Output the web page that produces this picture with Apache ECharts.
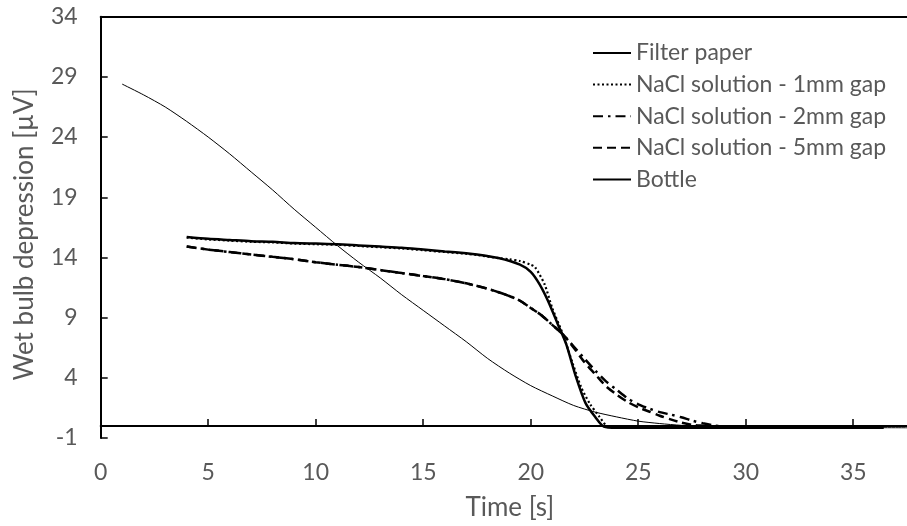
<!DOCTYPE html>
<html>
<head>
<meta charset="utf-8">
<script src="https://cdn.jsdelivr.net/npm/echarts@6/dist/echarts.min.js"></script>
<style>html,body{margin:0;padding:0;background:#fff}#c{width:907px;height:526px}</style>
</head>
<body>
<div id="c"></div>
<script>
const xTitle = 'Time [s]';
const yTitle = 'Wet bulb depression [µV]';
const seriesNames = ['Filter paper', 'NaCl solution - 1mm gap', 'NaCl solution - 2mm gap', 'NaCl solution - 5mm gap', 'Bottle'];

const filterPaper = [[4,15.7],[5,15.55],[6,15.45],[7,15.35],[8,15.3],[9,15.2],[10,15.15],[11,15.1],[12,15.0],[13,14.9],[14,14.8],[15,14.65],[16,14.5],[17,14.35],[17.5,14.25],[18.5,13.95],[19.5,13.4],[20,12.8],[20.4,11.8],[20.8,10.4],[21.25,8.5],[21.65,6.8],[22.1,4.1],[22.55,1.9],[23.0,0.75],[23.4,-0.05],[24,-0.15],[36.4,-0.15]];
const nacl1mm = [[4,15.65],[5,15.5],[6,15.4],[7,15.3],[8,15.25],[9,15.15],[10,15.1],[11,15.05],[12,14.95],[13,14.85],[14,14.75],[15,14.6],[16,14.45],[17,14.3],[17.5,14.2],[18.5,13.95],[19,13.85],[19.5,13.7],[20,13.4],[20.2,13.2],[20.65,11.75],[21,9.8],[21.5,7.6],[21.95,5.2],[22.35,3.2],[22.75,1.85],[23.2,0.75],[23.6,-0.1],[24,-0.15],[36.4,-0.15]];
const nacl2mm = [[4,14.9],[5,14.65],[6,14.45],[7,14.25],[8,14.05],[9,13.85],[10,13.6],[11,13.4],[12,13.2],[13,12.95],[14,12.7],[15,12.45],[16,12.2],[17,11.85],[18,11.4],[19,10.8],[19.5,10.4],[20,9.8],[20.5,9.2],[21,8.4],[21.5,7.6],[22,6.6],[22.5,5.6],[23,4.6],[23.5,3.7],[24,3.0],[24.5,2.3],[25,1.8],[25.5,1.45],[26,1.15],[26.5,0.95],[27,0.72],[27.5,0.45],[28,0.22],[28.5,0.05],[29,-0.05],[30,-0.1],[36.4,-0.15]];
const nacl5mm = [[4,14.9],[5,14.65],[6,14.45],[7,14.25],[8,14.05],[9,13.85],[10,13.6],[11,13.4],[12,13.2],[13,12.95],[14,12.7],[15,12.45],[16,12.2],[17,11.85],[18,11.4],[19,10.8],[19.5,10.4],[20,9.8],[20.5,9.2],[21,8.4],[21.5,7.6],[22,6.5],[22.5,5.3],[23,4.3],[23.5,3.3],[24,2.6],[24.5,2.0],[25,1.55],[25.5,1.2],[26,0.85],[26.5,0.55],[27,0.28],[27.5,0.1],[28,0.02],[28.5,-0.05],[30,-0.1],[36.4,-0.15]];
const bottle = [[1,28.4],[2,27.5],[3,26.5],[4,25.3],[5,24.0],[6,22.6],[7,21.1],[8,19.6],[9,18.0],[10,16.5],[11,15.0],[12,13.6],[13,12.3],[14,10.9],[15,9.6],[16,8.3],[17,7.0],[18,5.6],[19,4.4],[20,3.35],[21,2.5],[22,1.7],[23,1.15],[24,0.75],[25,0.4],[26,0.2],[27,0.05],[28,-0.05],[30,-0.1],[37.5,-0.15]];

const font = 'Lato, "Open Sans", sans-serif';
const grey = '#595959';
const chart = echarts.init(document.getElementById('c'), null, {renderer: 'canvas'});
function mk(name, data, width, type) {
  return {
    name: name, type: 'line', data: data, xAxisIndex: 0, yAxisIndex: 0,
    showSymbol: false, symbol: 'none', smooth: 0.25,
    lineStyle: {color: '#000', width: width, type: type, cap: 'butt'},
    itemStyle: {color: '#000'}, animation: false
  };
}
chart.setOption({
  animation: false,
  grid: {left: 100.7, right: 0, top: 16.7, bottom: 84.5, containLabel: false},
  legend: {
    orient: 'vertical', left: 587, top: 36.5, itemWidth: 38, itemHeight: 14, itemGap: 8.6,
    itemStyle: {opacity: 0},
    textStyle: {fontFamily: font, fontSize: 23, lineHeight: 23, color: grey},
    data: seriesNames
  },
  xAxis: [{
    type: 'value', min: 0, max: 37.5, interval: 5,
    name: xTitle, nameLocation: 'middle', nameGap: 57,
    nameTextStyle: {fontFamily: font, fontSize: 26, color: grey, padding: [0, 0, 0, 12]},
    axisLine: {show: true, lineStyle: {color: '#000', width: 2}},
    axisTick: {show: true, inside: true, length: 7, lineStyle: {color: '#000', width: 1.5}},
    axisLabel: {fontFamily: font, fontSize: 23, color: grey, margin: 23, showMaxLabel: false},
    splitLine: {show: false}
  }, {
    type: 'value', min: 0, max: 37.5, position: 'top',
    axisLine: {show: true, lineStyle: {color: '#000', width: 2}},
    axisTick: {show: false}, axisLabel: {show: false}, splitLine: {show: false}
  }],
  yAxis: {
    type: 'value', min: -1, max: 34, interval: 5,
    name: yTitle, nameLocation: 'middle', nameGap: 63,
    nameTextStyle: {fontFamily: font, fontSize: 26, color: grey, padding: [0, 14, 0, 0]},
    axisLine: {show: true, lineStyle: {color: '#000', width: 2}},
    axisTick: {show: true, inside: true, length: 7, lineStyle: {color: '#000', width: 1.5}},
    axisLabel: {fontFamily: font, fontSize: 23, color: grey, margin: 23},
    splitLine: {show: false}
  },
  series: [
    mk(seriesNames[0], filterPaper, 2.5, 'solid'),
    mk(seriesNames[1], nacl1mm, 2.2, [2, 2.5]),
    mk(seriesNames[2], nacl2mm, 2.5, [10, 5, 2.5, 5]),
    mk(seriesNames[3], nacl5mm, 2.5, [9, 5]),
    mk(seriesNames[4], bottle, 1, 'solid')
  ]
});
</script>
</body>
</html>
